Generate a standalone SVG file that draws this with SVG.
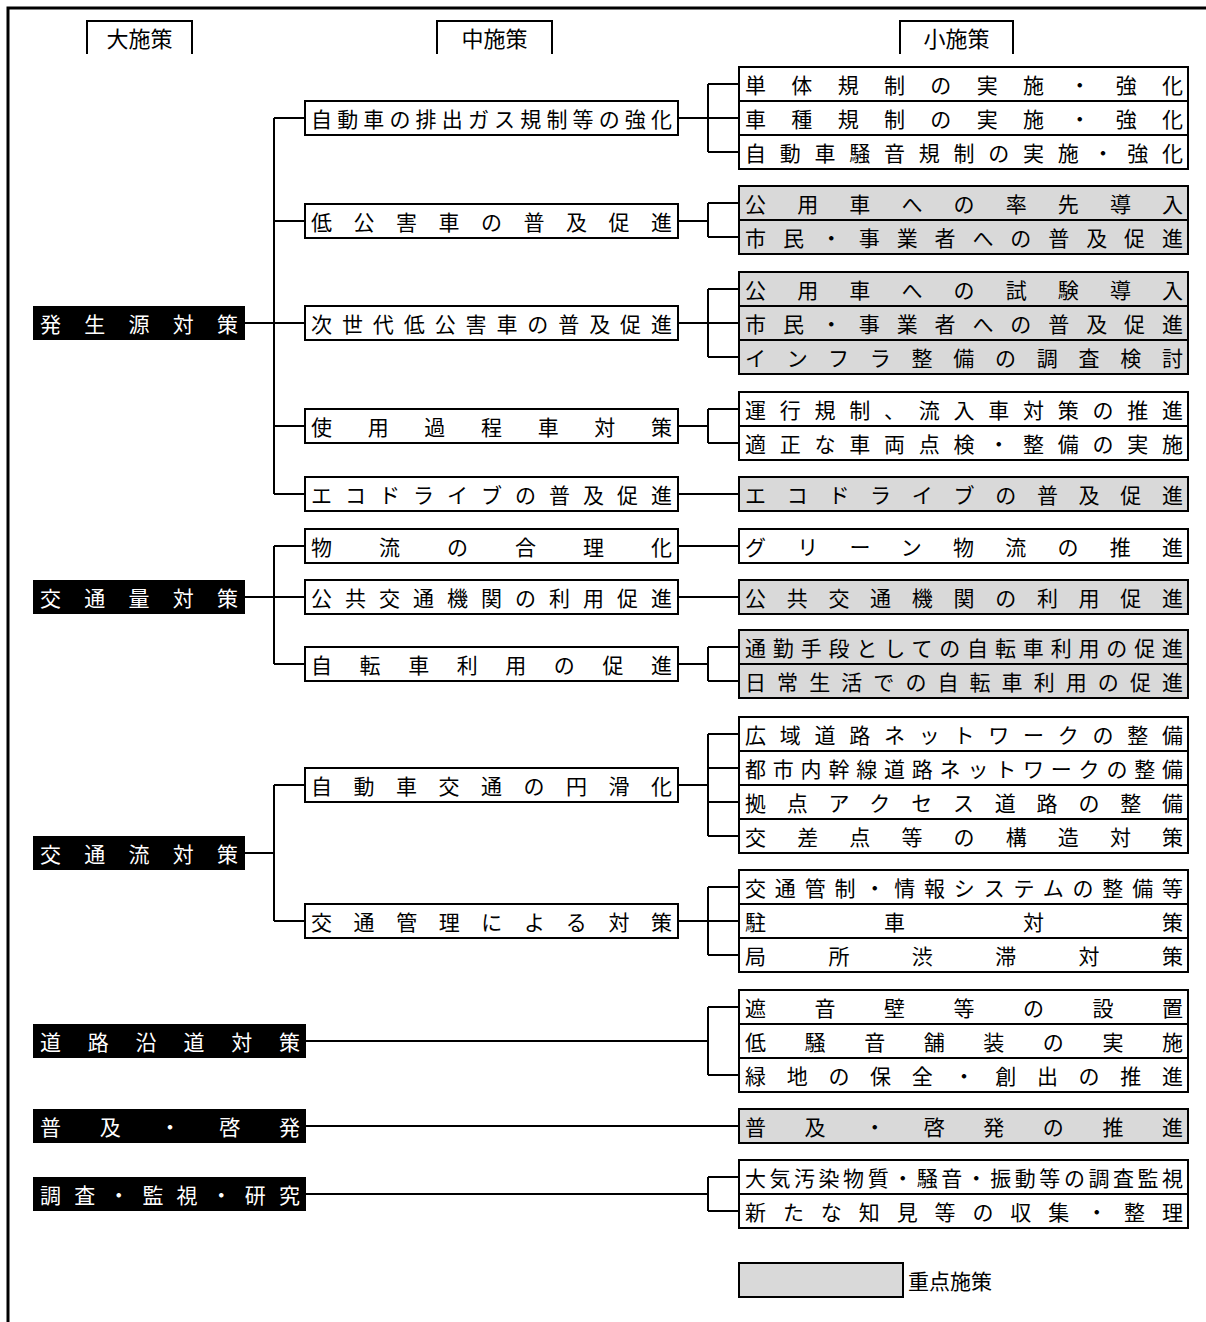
<svg xmlns="http://www.w3.org/2000/svg" width="1206" height="1322" viewBox="0 0 1206 1322">
<style>
text{font-family:"Noto Sans CJK JP","Noto Sans CJK SC",sans-serif;font-size:21px;dominant-baseline:central;fill:#000}
.w{fill:#fff;stroke:#000;stroke-width:2}
.g{fill:#d9d9d9;stroke:#000;stroke-width:2}
.b{fill:#000}
.bt{fill:#fff}
.hd{font-size:22px;text-anchor:middle}
.ln{fill:none;stroke:#000;stroke-width:2}
</style>
<rect width="1206" height="1322" fill="#fff"/>
<path d="M8 1322V8H1206" fill="none" stroke="#000" stroke-width="3"/>
<g id="headers">
<path class="ln" d="M87 54V21H192V54"/><text class="hd" x="139.5" y="37">大施策</text>
<path class="ln" d="M437 54V21H552V54"/><text class="hd" x="494.5" y="37">中施策</text>
<path class="ln" d="M900 54V21H1013V54"/><text class="hd" x="956.5" y="37">小施策</text>
</g>
<g id="connectors" class="ln">
<path d="M245 323H305M274 118V494M274 118H305M274 221H305M274 426H305M274 494H305"/>
<path d="M245 597H305M274 546V664M274 546H305M274 664H305"/>
<path d="M245 853H274M274 785V921M274 785H305M274 921H305"/>
<path d="M678 118H708M708 84V152M708 84H739M708 118H739M708 152H739"/>
<path d="M678 221H708M708 203V237M708 203H739M708 237H739"/>
<path d="M678 323H708M708 289V357M708 289H739M708 323H739M708 357H739"/>
<path d="M678 426H708M708 409V443M708 409H739M708 443H739"/>
<path d="M678 494H739M678 546H739M678 597H739"/>
<path d="M678 664H708M708 647V681M708 647H739M708 681H739"/>
<path d="M678 785H708M708 734V836M708 734H739M708 768H739M708 802H739M708 836H739"/>
<path d="M678 921H708M708 887V955M708 887H739M708 921H739M708 955H739"/>
<path d="M306 1041H708M708 1007V1075M708 1007H739M708 1075H739"/>
<path d="M306 1126H739"/>
<path d="M306 1194H708M708 1177V1211M708 1177H739M708 1211H739"/>
</g>
<g id="big1"><rect class="b" x="33" y="306" width="212" height="34"/><text class="bt" x="40" y="323" textLength="198" lengthAdjust="spacing">発生源対策</text></g>
<g id="big2"><rect class="b" x="33" y="580" width="212" height="34"/><text class="bt" x="40" y="597" textLength="198" lengthAdjust="spacing">交通量対策</text></g>
<g id="big3"><rect class="b" x="33" y="836" width="212" height="34"/><text class="bt" x="40" y="853" textLength="198" lengthAdjust="spacing">交通流対策</text></g>
<g id="big4"><rect class="b" x="33" y="1024" width="273" height="34"/><text class="bt" x="40" y="1041" textLength="260" lengthAdjust="spacing">道路沿道対策</text></g>
<g id="big5"><rect class="b" x="33" y="1109" width="273" height="34"/><text class="bt" x="40" y="1126" textLength="260" lengthAdjust="spacing">普及・啓発</text></g>
<g id="big6"><rect class="b" x="33" y="1177" width="273" height="34"/><text class="bt" x="40" y="1194" textLength="260" lengthAdjust="spacing">調査・監視・研究</text></g>
<g id="mid1"><rect class="w" x="305" y="101" width="373" height="34"/><text x="311" y="118" textLength="361" lengthAdjust="spacing">自動車の排出ガス規制等の強化</text></g>
<g id="mid2"><rect class="w" x="305" y="204" width="373" height="34"/><text x="311" y="221" textLength="361" lengthAdjust="spacing">低公害車の普及促進</text></g>
<g id="mid3"><rect class="w" x="305" y="306" width="373" height="34"/><text x="311" y="323" textLength="361" lengthAdjust="spacing">次世代低公害車の普及促進</text></g>
<g id="mid4"><rect class="w" x="305" y="409" width="373" height="34"/><text x="311" y="426" textLength="361" lengthAdjust="spacing">使用過程車対策</text></g>
<g id="mid5"><rect class="w" x="305" y="477" width="373" height="34"/><text x="311" y="494" textLength="361" lengthAdjust="spacing">エコドライブの普及促進</text></g>
<g id="mid6"><rect class="w" x="305" y="529" width="373" height="34"/><text x="311" y="546" textLength="361" lengthAdjust="spacing">物流の合理化</text></g>
<g id="mid7"><rect class="w" x="305" y="580" width="373" height="34"/><text x="311" y="597" textLength="361" lengthAdjust="spacing">公共交通機関の利用促進</text></g>
<g id="mid8"><rect class="w" x="305" y="647" width="373" height="34"/><text x="311" y="664" textLength="361" lengthAdjust="spacing">自転車利用の促進</text></g>
<g id="mid9"><rect class="w" x="305" y="768" width="373" height="34"/><text x="311" y="785" textLength="361" lengthAdjust="spacing">自動車交通の円滑化</text></g>
<g id="mid10"><rect class="w" x="305" y="904" width="373" height="34"/><text x="311" y="921" textLength="361" lengthAdjust="spacing">交通管理による対策</text></g>
<g id="s1a"><rect class="w" x="739" y="67" width="449" height="34"/><text x="745" y="84" textLength="438" lengthAdjust="spacing">単体規制の実施・強化</text></g>
<g id="s1b"><rect class="w" x="739" y="101" width="449" height="34"/><text x="745" y="118" textLength="438" lengthAdjust="spacing">車種規制の実施・強化</text></g>
<g id="s1c"><rect class="w" x="739" y="135" width="449" height="34"/><text x="745" y="152" textLength="438" lengthAdjust="spacing">自動車騒音規制の実施・強化</text></g>
<g id="s2a"><rect class="g" x="739" y="186" width="449" height="34"/><text x="745" y="203" textLength="438" lengthAdjust="spacing">公用車への率先導入</text></g>
<g id="s2b"><rect class="g" x="739" y="220" width="449" height="34"/><text x="745" y="237" textLength="438" lengthAdjust="spacing">市民・事業者への普及促進</text></g>
<g id="s3a"><rect class="g" x="739" y="272" width="449" height="34"/><text x="745" y="289" textLength="438" lengthAdjust="spacing">公用車への試験導入</text></g>
<g id="s3b"><rect class="g" x="739" y="306" width="449" height="34"/><text x="745" y="323" textLength="438" lengthAdjust="spacing">市民・事業者への普及促進</text></g>
<g id="s3c"><rect class="g" x="739" y="340" width="449" height="34"/><text x="745" y="357" textLength="438" lengthAdjust="spacing">インフラ整備の調査検討</text></g>
<g id="s4a"><rect class="w" x="739" y="392" width="449" height="34"/><text x="745" y="409" textLength="438" lengthAdjust="spacing">運行規制、流入車対策の推進</text></g>
<g id="s4b"><rect class="w" x="739" y="426" width="449" height="34"/><text x="745" y="443" textLength="438" lengthAdjust="spacing">適正な車両点検・整備の実施</text></g>
<g id="s5"><rect class="g" x="739" y="477" width="449" height="34"/><text x="745" y="494" textLength="438" lengthAdjust="spacing">エコドライブの普及促進</text></g>
<g id="s6"><rect class="w" x="739" y="529" width="449" height="34"/><text x="745" y="546" textLength="438" lengthAdjust="spacing">グリーン物流の推進</text></g>
<g id="s7"><rect class="g" x="739" y="580" width="449" height="34"/><text x="745" y="597" textLength="438" lengthAdjust="spacing">公共交通機関の利用促進</text></g>
<g id="s8a"><rect class="g" x="739" y="630" width="449" height="34"/><text x="745" y="647" textLength="438" lengthAdjust="spacing">通勤手段としての自転車利用の促進</text></g>
<g id="s8b"><rect class="g" x="739" y="664" width="449" height="34"/><text x="745" y="681" textLength="438" lengthAdjust="spacing">日常生活での自転車利用の促進</text></g>
<g id="s9a"><rect class="w" x="739" y="717" width="449" height="34"/><text x="745" y="734" textLength="438" lengthAdjust="spacing">広域道路ネットワークの整備</text></g>
<g id="s9b"><rect class="w" x="739" y="751" width="449" height="34"/><text x="745" y="768" textLength="438" lengthAdjust="spacing">都市内幹線道路ネットワークの整備</text></g>
<g id="s9c"><rect class="w" x="739" y="785" width="449" height="34"/><text x="745" y="802" textLength="438" lengthAdjust="spacing">拠点アクセス道路の整備</text></g>
<g id="s9d"><rect class="w" x="739" y="819" width="449" height="34"/><text x="745" y="836" textLength="438" lengthAdjust="spacing">交差点等の構造対策</text></g>
<g id="s10a"><rect class="w" x="739" y="870" width="449" height="34"/><text x="745" y="887" textLength="438" lengthAdjust="spacing">交通管制・情報システムの整備等</text></g>
<g id="s10b"><rect class="w" x="739" y="904" width="449" height="34"/><text x="745" y="921" textLength="438" lengthAdjust="spacing">駐車対策</text></g>
<g id="s10c"><rect class="w" x="739" y="938" width="449" height="34"/><text x="745" y="955" textLength="438" lengthAdjust="spacing">局所渋滞対策</text></g>
<g id="s11a"><rect class="w" x="739" y="990" width="449" height="34"/><text x="745" y="1007" textLength="438" lengthAdjust="spacing">遮音壁等の設置</text></g>
<g id="s11b"><rect class="w" x="739" y="1024" width="449" height="34"/><text x="745" y="1041" textLength="438" lengthAdjust="spacing">低騒音舗装の実施</text></g>
<g id="s11c"><rect class="w" x="739" y="1058" width="449" height="34"/><text x="745" y="1075" textLength="438" lengthAdjust="spacing">緑地の保全・創出の推進</text></g>
<g id="s12"><rect class="g" x="739" y="1109" width="449" height="34"/><text x="745" y="1126" textLength="438" lengthAdjust="spacing">普及・啓発の推進</text></g>
<g id="s13a"><rect class="w" x="739" y="1160" width="449" height="34"/><text x="745" y="1177" textLength="438" lengthAdjust="spacing">大気汚染物質・騒音・振動等の調査監視</text></g>
<g id="s13b"><rect class="w" x="739" y="1194" width="449" height="34"/><text x="745" y="1211" textLength="438" lengthAdjust="spacing">新たな知見等の収集・整理</text></g>
<g id="legend"><rect class="g" x="739" y="1263" width="164" height="34"/><text x="908" y="1280">重点施策</text></g>
</svg>
